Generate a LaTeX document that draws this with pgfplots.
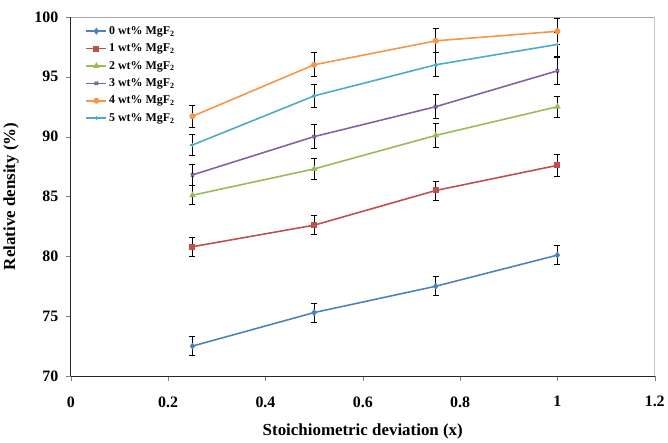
\documentclass[border=0pt]{standalone}
\usepackage{fontspec}
\setmainfont{Liberation Serif}
\usepackage{pgfplots}
\pgfplotsset{compat=1.18}

\definecolor{cA}{HTML}{4F81BD}
\definecolor{cB}{HTML}{C0504D}
\definecolor{cC}{HTML}{9BBB59}
\definecolor{cD}{HTML}{8064A2}
\definecolor{cE}{HTML}{F79646}
\definecolor{cF}{HTML}{4BACC6}

\begin{document}
\begin{tikzpicture}[x=1pt,y=1pt]
\begin{axis}[
  scale only axis,
  width=587pt, height=361pt,
  xmin=0, xmax=1.2, ymin=70, ymax=100,
  xtick={0,0.2,...,1.2}, ytick={70,75,...,100},
  xticklabel style={/pgf/number format/fixed, /pgf/number format/precision=1, yshift=-12pt},
  yticklabel style={xshift=-4pt},
  /pgf/number format/assume math mode=true,
  ticklabel style={font=\fontsize{16}{18}\selectfont\bfseries},
  tick align=outside, tick pos=left,
  major tick length=5pt,
  axis x line*=bottom, axis y line*=left,
  axis line style={black!85, line width=1pt},
  xlabel={Stoichiometric deviation (x)},
  ylabel={Relative density (\%)},
  label style={font=\fontsize{17}{19}\selectfont\bfseries},
  xlabel style={yshift=-10pt},
  ylabel style={yshift=9pt},
  legend style={draw=none, fill=none, at={(0.02,0.985)}, anchor=north west,
    font=\fontsize{12}{13}\selectfont\bfseries, row sep=4pt},
  legend cell align=left,
  legend image code/.code={\draw[mark repeat=2, mark phase=2, #1] plot coordinates {(0cm,0cm) (0.35cm,0cm) (0.7cm,0cm)};},
  every axis plot/.append style={line width=1.6pt, mark size=2.3pt,
    error bars/error bar style={black, line width=0.8pt},
    error bars/error mark options={rotate=90, mark size=3pt, black, line width=0.8pt}},
]
\draw[gray!70, line width=0.8pt] (rel axis cs:0,1) -- (rel axis cs:1,1) -- (rel axis cs:1,0);
\coordinate (topleft) at (rel axis cs:0,1);

\addplot[cA, mark=diamond*, error bars/.cd, y dir=both, y explicit]
  coordinates {(0.25,72.5) +- (0,0.8) (0.5,75.3) +- (0,0.8) (0.75,77.5) +- (0,0.8) (1,80.1) +- (0,0.8)};
\addlegendentry{0 wt\% MgF$_\mathbf{2}$}
\addplot[cB, mark=square*, mark size=2.2pt, error bars/.cd, y dir=both, y explicit]
  coordinates {(0.25,80.8) +- (0,0.8) (0.5,82.6) +- (0,0.8) (0.75,85.5) +- (0,0.8) (1,87.6) +- (0,0.9)};
\addlegendentry{1 wt\% MgF$_\mathbf{2}$}
\addplot[cC, mark=triangle*, error bars/.cd, y dir=both, y explicit]
  coordinates {(0.25,85.1) +- (0,0.8) (0.5,87.3) +- (0,0.9) (0.75,90.1) +- (0,1.0) (1,92.5) +- (0,0.9)};
\addlegendentry{2 wt\% MgF$_\mathbf{2}$}
\addplot[cD, mark=x, error bars/.cd, y dir=both, y explicit]
  coordinates {(0.25,86.8) +- (0,0.9) (0.5,90.0) +- (0,1.0) (0.75,92.5) +- (0,1.0) (1,95.5) +- (0,1.1)};
\addlegendentry{3 wt\% MgF$_\mathbf{2}$}
\addplot[cE, mark=*, mark size=2.2pt, error bars/.cd, y dir=both, y explicit]
  coordinates {(0.25,91.7) +- (0,0.9) (0.5,96.0) +- (0,1.0) (0.75,98.0) +- (0,1.0) (1,98.8) +- (0,1.1)};
\addlegendentry{4 wt\% MgF$_\mathbf{2}$}
\addplot[cF, mark=+, mark size=2pt, error bars/.cd, y dir=both, y explicit]
  coordinates {(0.25,89.3) +- (0,0.9) (0.5,93.4) +- (0,1.0) (0.75,96.0) +- (0,1.0) (1,97.7) +- (0,1.0)};
\addlegendentry{5 wt\% MgF$_\mathbf{2}$}
\end{axis}
\path (topleft) -- ++(0,17pt);
\end{tikzpicture}
\end{document}
